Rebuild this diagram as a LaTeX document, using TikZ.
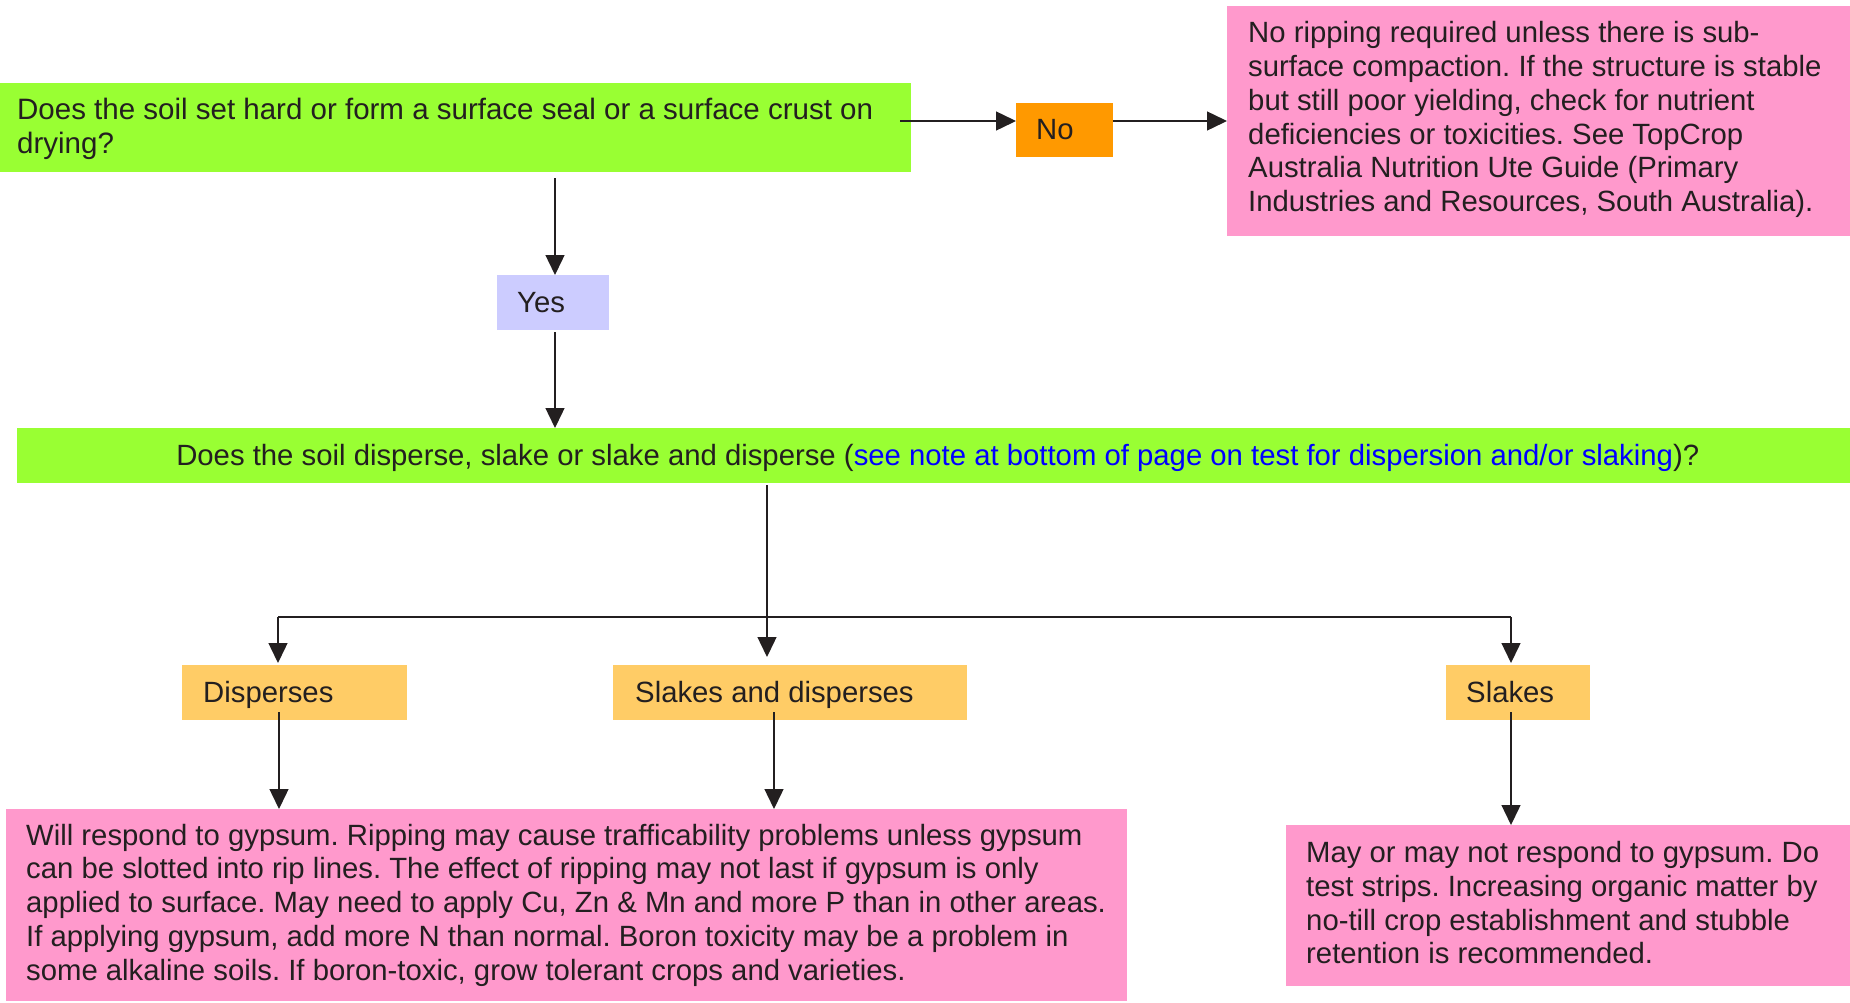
\documentclass[tikz,border=0pt]{standalone}
\usepackage{fontspec}
\setmainfont{Liberation Sans}
\usetikzlibrary{arrows.meta}
\definecolor{qgreen}{HTML}{99FF33}
\definecolor{noorange}{HTML}{FF9900}
\definecolor{yesblue}{HTML}{CCCCFF}
\definecolor{infopink}{HTML}{FF99CC}
\definecolor{ansyellow}{HTML}{FFCC66}
\definecolor{txt}{HTML}{231F20}
\definecolor{linkblue}{HTML}{0000FF}
\frenchspacing
\tikzset{
  box/.style={anchor=north west, inner sep=0pt, draw=none},
  lbl/.style={anchor=west, inner sep=0pt, align=left,
    font=\fontsize{29.3}{33.8}\selectfont, text=txt},
  one/.style={text height=21pt, text depth=7pt, yshift=-2.4pt},
  arr/.style={draw=txt, line width=1.4pt, -{Triangle[length=20pt,width=19pt]}},
  ln/.style={draw=txt, line width=2pt},
}
\begin{document}
\begin{tikzpicture}[x=1pt,y=-1pt]
\useasboundingbox (0,0) rectangle (1850,1002);
% boxes
\node[box, fill=qgreen, minimum width=911pt, minimum height=89pt] (q1) at (0,83) {};
\node[box, fill=noorange, minimum width=97pt, minimum height=54pt] (no) at (1016,103) {};
\node[box, fill=infopink, minimum width=623pt, minimum height=230pt] (noinfo) at (1227,6) {};
\node[box, fill=yesblue, minimum width=112pt, minimum height=55pt] (yes) at (497,275) {};
\node[box, fill=qgreen, minimum width=1833pt, minimum height=55pt] (q2) at (17,428) {};
\node[box, fill=ansyellow, minimum width=225pt, minimum height=55pt] (disp) at (182,665) {};
\node[box, fill=ansyellow, minimum width=354pt, minimum height=55pt] (sd) at (613,665) {};
\node[box, fill=ansyellow, minimum width=144pt, minimum height=55pt] (sl) at (1446,665) {};
\node[box, fill=infopink, minimum width=1121pt, minimum height=192pt] (r1) at (6,809) {};
\node[box, fill=infopink, minimum width=564pt, minimum height=161pt] (r3) at (1286,825) {};
% texts
\node[lbl, font=\fontsize{29.5}{34.2}\selectfont] (q1t) at ([xshift=17pt,yshift=-1pt]q1.west)
  {Does the soil set hard or form a surface seal or a surface crust on\\drying?};
\node[lbl, one] (not) at ([xshift=20pt]no.west) {No};
\node[lbl] (noinfot) at ([xshift=21pt,yshift=1.6pt]noinfo.west)
  {No ripping required unless there is sub-\\surface compaction. If the structure is stable\\but still poor yielding, check for nutrient\\deficiencies or toxicities. See TopCrop\\Australia Nutrition Ute Guide (Primary\\Industries and Resources, South Australia).};
\node[lbl, one] (yest) at ([xshift=20pt]yes.west) {Yes};
\node[lbl, one, anchor=center, font=\fontsize{29.3}{34}\selectfont] (q2t) at ([xshift=4pt]q2.center)
  {Does the soil disperse, slake or slake and disperse ({\color{linkblue}see note at bottom of page on test for dispersion and/or slaking})?};
\node[lbl, one] (dispt) at ([xshift=21pt]disp.west) {Disperses};
\node[lbl, one] (sdt) at ([xshift=22pt]sd.west) {Slakes and disperses};
\node[lbl, one] (slt) at ([xshift=20pt]sl.west) {Slakes};
\node[lbl] (r1t) at ([xshift=20pt]r1.west)
  {Will respond to gypsum. Ripping may cause trafficability problems unless gypsum\\can be slotted into rip lines. The effect of ripping may not last if gypsum is only\\applied to surface. May need to apply Cu, Zn \& Mn and more P than in other areas.\\If applying gypsum, add more N than normal. Boron toxicity may be a problem in\\some alkaline soils. If boron-toxic, grow tolerant crops and varieties.};
\node[lbl] (r3t) at ([xshift=20pt,yshift=3pt]r3.west)
  {May or may not respond to gypsum. Do\\test strips. Increasing organic matter by\\no-till crop establishment and stubble\\retention is recommended.};
% connectors
\coordinate (s1) at (900,121);
\draw[arr] (s1) -- (s1 -| no.west);
\draw[arr] (s1 -| no.east) -- (s1 -| noinfo.west);
\coordinate (vy) at (555,178);
\draw[arr] (vy) -- (vy |- yes.north);
\draw[arr] ([yshift=-2pt]vy |- yes.south) -- (vy |- q2.north);
\coordinate (j) at (767,617);
\coordinate (jl) at (278,617);
\coordinate (jr) at (1511,617);
\draw[arr] ([yshift=-2pt]j |- q2.south) -- ([yshift=8pt]j |- sd.north);
\draw[ln] (jl) -- (jr);
\draw[arr] (jl) -- ([yshift=2pt]jl |- disp.north);
\draw[arr] (jr) -- ([yshift=2pt]jr |- sl.north);
\coordinate (d1) at (279,712);
\coordinate (d2) at (774,712);
\draw[arr] (d1) -- (d1 |- r1.north);
\draw[arr] (d2) -- (d2 |- r1.north);
\draw[arr] (jr |- d1) -- (jr |- r3.north);
\end{tikzpicture}
\end{document}
